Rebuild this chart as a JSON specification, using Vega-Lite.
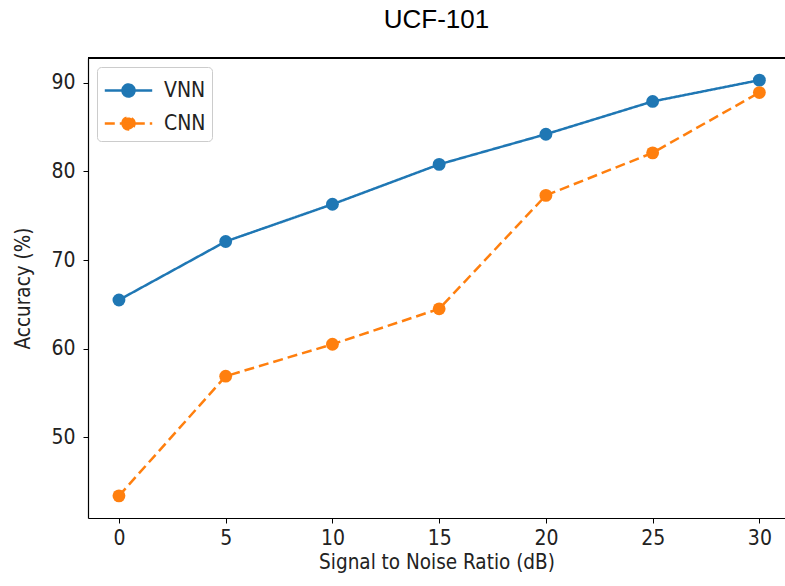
{
  "$schema": "https://vega.github.io/schema/vega-lite/v6.json",
  "width": 697,
  "height": 460,
  "autosize": {"type": "none"},
  "padding": {"left": 88, "top": 58, "right": 0, "bottom": 68},
  "background": "white",
  "title": {"text": "UCF-101", "font": "Liberation Sans", "fontSize": 26, "fontWeight": "normal", "color": "black", "anchor": "middle", "offset": 24},
  "config": {
    "view": {"stroke": null},
    "axis": {"grid": false, "domainColor": "black", "domainWidth": 1.2, "tickColor": "black", "tickSize": 5, "labelFont": "DejaVu Sans Condensed", "labelFontSize": 21, "labelColor": "#222", "titleFont": "DejaVu Sans Condensed", "titleFontSize": 20.5, "titleFontWeight": "normal", "titleColor": "#222"}
  },
  "data": {"values": [
    {"snr": 0, "acc": 65.5, "model": "VNN"},
    {"snr": 5, "acc": 72.1, "model": "VNN"},
    {"snr": 10, "acc": 76.3, "model": "VNN"},
    {"snr": 15, "acc": 80.8, "model": "VNN"},
    {"snr": 20, "acc": 84.2, "model": "VNN"},
    {"snr": 25, "acc": 87.9, "model": "VNN"},
    {"snr": 30, "acc": 90.3, "model": "VNN"},
    {"snr": 0, "acc": 43.4, "model": "CNN"},
    {"snr": 5, "acc": 56.9, "model": "CNN"},
    {"snr": 10, "acc": 60.5, "model": "CNN"},
    {"snr": 15, "acc": 64.5, "model": "CNN"},
    {"snr": 20, "acc": 77.3, "model": "CNN"},
    {"snr": 25, "acc": 82.1, "model": "CNN"},
    {"snr": 30, "acc": 88.9, "model": "CNN"}
  ]},
  "layer": [
    {
      "mark": {"type": "line", "strokeWidth": 2.5},
      "encoding": {
        "x": {"field": "snr", "type": "quantitative", "scale": {"domain": [-1.45, 31.2], "nice": false, "zero": false},
          "axis": {"values": [0, 5, 10, 15, 20, 25, 30], "title": "Signal to Noise Ratio (dB)", "labelPadding": 4, "titlePadding": 4}},
        "y": {"field": "acc", "type": "quantitative", "scale": {"domain": [40.9, 92.8], "nice": false, "zero": false},
          "axis": {"values": [50, 60, 70, 80, 90], "title": "Accuracy (%)", "labelPadding": 8, "titlePadding": 17}},
        "color": {"field": "model", "type": "nominal", "scale": {"domain": ["VNN", "CNN"], "range": ["#1f77b4", "#ff7f0e"]},
          "legend": {"title": null, "orient": "top-left", "offset": 9, "fillColor": "white", "strokeColor": "#cccccc", "cornerRadius": 4, "padding": 6,
            "labelFont": "DejaVu Sans Condensed", "labelFontSize": 21, "labelColor": "#222", "rowPadding": 4, "symbolStrokeWidth": 2.5,
            "symbolType": "M-1.5,0L1.5,0M-0.38,0a0.38,0.38 0 1,0 0.76,0a0.38,0.38 0 1,0 -0.76,0", "symbolSize": 1000, "symbolOffset": 8, "labelOffset": 18}},
        "strokeDash": {"field": "model", "type": "nominal", "scale": {"domain": ["VNN", "CNN"], "range": [[1, 0], [10, 5]]}, "legend": null}
      }
    },
    {
      "mark": {"type": "point", "filled": true, "size": 165, "opacity": 1, "shape": "circle"},
      "encoding": {
        "x": {"field": "snr", "type": "quantitative"},
        "y": {"field": "acc", "type": "quantitative"},
        "color": {"field": "model", "type": "nominal"}
      }
    },
    {"mark": {"type": "rule", "color": "black", "strokeWidth": 1.2}, "encoding": {"y": {"datum": 92.8}}}
  ]
}
